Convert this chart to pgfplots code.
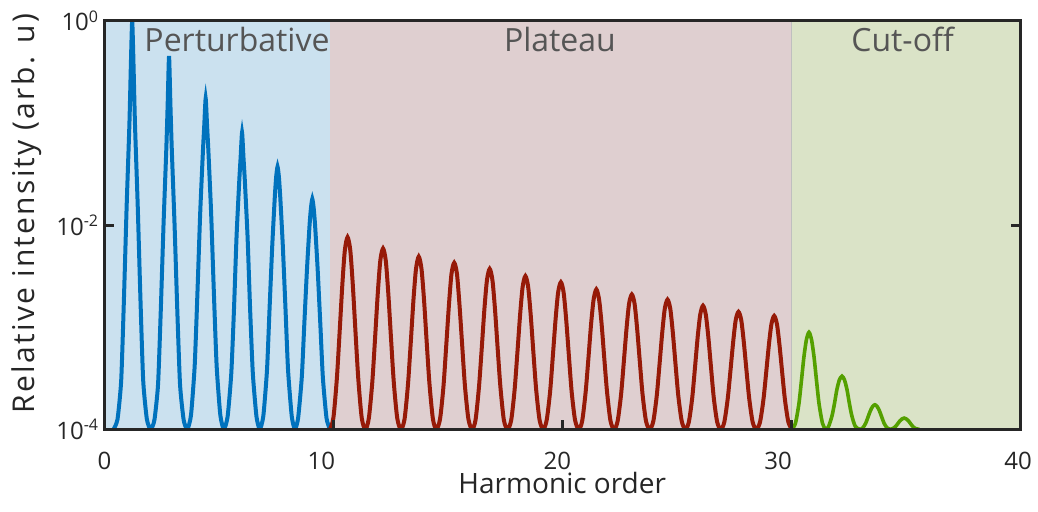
\documentclass[border=0pt]{standalone}
\usepackage{fontspec}
\setmainfont{Open Sans}
\usepackage{pgfplots}
\pgfplotsset{compat=1.18}
\definecolor{framec}{RGB}{38,38,38}
\definecolor{blueline}{RGB}{0,114,189}
\definecolor{redline}{RGB}{150,26,8}
\definecolor{greenline}{RGB}{84,160,0}
\definecolor{bluebg}{RGB}{203,225,239}
\definecolor{redbg}{RGB}{223,207,208}
\definecolor{greenbg}{RGB}{218,227,199}
\definecolor{labgray}{RGB}{85,85,85}
\begin{document}
\begin{tikzpicture}
\useasboundingbox (-52.25pt,-40.85pt) rectangle (466.75pt,214.65pt);
\begin{axis}[
  at={(0,0)}, anchor=south west,
  scale only axis, width=457.75pt, height=204.3pt,
  xmin=0, xmax=40, ymin=-4, ymax=0,
  axis on top, clip=true,
  axis line style={draw=framec, line width=1.5pt},
  xtick={0,10,20,30,40},
  xticklabels={0,\hspace*{-12pt}10,\hspace*{-5pt}20,\hspace*{-13pt}30,\hspace*{-2pt}40},
  ytick={-4,-2,0},
  yticklabels={10\textsuperscript{-4},10\textsuperscript{-2},10\textsuperscript{0}},
  tick align=inside, major tick length=4.5pt,
  tick style={draw=framec, line width=1.5pt},
  xtick pos=lower, ytick pos=both,
  tick label style={font=\fontsize{12}{14}\selectfont, text=framec},
  xticklabel style={anchor=north, inner sep=0pt, yshift=-11.2pt},
  yticklabel style={anchor=east, inner sep=0pt, xshift=-2.5pt},
  xlabel={Harmonic order},
  ylabel={\addfontfeatures{LetterSpace=7.5}Relative intensity (arb. u)},
  xlabel style={at={(axis description cs:0.5,-0.157)}, anchor=base, font=\fontsize{14}{16}\selectfont, text=framec},
  ylabel style={at={(axis description cs:-0.077,0.528)}, anchor=base, rotate=0, font=\fontsize{15}{17}\selectfont, text=framec},
]
\addplot[fill=bluebg, draw=none] coordinates {(0,-4) (9.85,-4) (9.85,0) (0,0)} -- cycle;
\addplot[fill=redbg, draw=none] coordinates {(9.85,-4) (30.0,-4) (30.0,0) (9.85,0)} -- cycle;
\addplot[fill=greenbg, draw=none] coordinates {(30.0,-4) (40,-4) (40,0) (30.0,0)} -- cycle;
\draw[color=black!25, line width=0.5pt] (axis cs:30.0,-4) -- (axis cs:30.0,0);

\node[anchor=base, font=\fontsize{16}{18}\selectfont, text=labgray] at (axis cs:5.79,-0.306) {Perturbative};
\node[anchor=base, font=\fontsize{16}{18}\selectfont, text=labgray] at (axis cs:19.9,-0.306) {Plateau};
\node[anchor=base, font=\fontsize{16}{18}\selectfont, text=labgray] at (axis cs:34.87,-0.306) {Cut-off};

\addplot[blueline, line width=2pt, smooth, tension=0.35] coordinates {
(0.40,-4) (0.57,-3.90) (0.73,-3.52) (0.85,-2.72) (0.97,-1.80) (1.09,-1.00) (1.15,-0.45) (1.21,0) (1.27,-0.45) (1.33,-1.00) (1.45,-1.80) (1.57,-2.72) (1.69,-3.52) (1.85,-3.90) (2.015,-4)
(2.18,-3.91) (2.34,-3.56) (2.46,-2.83) (2.58,-1.99) (2.70,-1.26) (2.76,-0.82) (2.82,-0.346) (2.88,-0.82) (2.94,-1.26) (3.06,-1.99) (3.18,-2.83) (3.30,-3.56) (3.46,-3.91) (3.62,-4)
(3.78,-3.86) (3.94,-3.38) (4.06,-2.67) (4.18,-1.89) (4.30,-1.28) (4.36,-1.02) (4.42,-0.76) (4.48,-1.02) (4.54,-1.28) (4.66,-1.89) (4.78,-2.67) (4.90,-3.38) (5.06,-3.86) (5.215,-4)
(5.38,-3.875) (5.54,-3.45) (5.66,-2.81) (5.77,-2.11) (5.89,-1.56) (5.95,-1.33) (6.01,-1.096) (6.07,-1.33) (6.13,-1.56) (6.25,-2.11) (6.36,-2.81) (6.48,-3.45) (6.64,-3.875) (6.785,-4)
(6.94,-3.87) (7.10,-3.42) (7.21,-2.83) (7.33,-2.20) (7.44,-1.73) (7.50,-1.53) (7.56,-1.43) (7.62,-1.53) (7.68,-1.73) (7.79,-2.20) (7.91,-2.83) (8.02,-3.42) (8.18,-3.87) (8.32,-4)
(8.46,-3.89) (8.62,-3.49) (8.73,-2.97) (8.85,-2.42) (8.96,-2.00) (9.02,-1.835) (9.08,-1.745) (9.14,-1.835) (9.20,-2.00) (9.31,-2.42) (9.43,-2.97) (9.54,-3.49) (9.70,-3.89) (9.85,-4)
};

\addplot[redline, line width=2pt, smooth, tension=0.45] coordinates {
(9.85,-4) (10.00,-3.89) (10.15,-3.51) (10.27,-3.06) (10.39,-2.59) (10.50,-2.25) (10.62,-2.12) (10.74,-2.25) (10.85,-2.59) (10.97,-3.06) (11.09,-3.51) (11.24,-3.89) (11.40,-4)
(11.55,-3.89) (11.70,-3.54) (11.82,-3.115) (11.94,-2.67) (12.05,-2.35) (12.17,-2.23) (12.29,-2.35) (12.40,-2.67) (12.52,-3.115) (12.64,-3.54) (12.79,-3.89) (12.95,-4)
(13.11,-3.90) (13.26,-3.56) (13.38,-3.155) (13.50,-2.73) (13.61,-2.43) (13.73,-2.31) (13.85,-2.43) (13.96,-2.73) (14.08,-3.155) (14.20,-3.56) (14.35,-3.90) (14.50,-4)
(14.66,-3.90) (14.81,-3.58) (14.93,-3.185) (15.05,-2.78) (15.16,-2.48) (15.28,-2.37) (15.40,-2.48) (15.51,-2.78) (15.63,-3.185) (15.75,-3.58) (15.90,-3.90) (16.06,-4)
(16.21,-3.91) (16.36,-3.59) (16.48,-3.215) (16.60,-2.82) (16.71,-2.54) (16.83,-2.43) (16.95,-2.54) (17.06,-2.82) (17.18,-3.215) (17.30,-3.59) (17.45,-3.91) (17.61,-4)
(17.77,-3.91) (17.92,-3.61) (18.04,-3.25) (18.16,-2.875) (18.27,-2.605) (18.39,-2.50) (18.51,-2.605) (18.62,-2.875) (18.74,-3.25) (18.86,-3.61) (19.01,-3.91) (19.17,-4)
(19.32,-3.91) (19.47,-3.63) (19.59,-3.28) (19.71,-2.92) (19.82,-2.66) (19.94,-2.56) (20.06,-2.66) (20.17,-2.92) (20.29,-3.28) (20.41,-3.63) (20.56,-3.91) (20.72,-4)
(20.87,-3.92) (21.02,-3.64) (21.14,-3.315) (21.26,-2.97) (21.37,-2.73) (21.49,-2.63) (21.61,-2.73) (21.72,-2.97) (21.84,-3.315) (21.96,-3.64) (22.11,-3.92) (22.27,-4)
(22.42,-3.92) (22.57,-3.66) (22.69,-3.34) (22.81,-3.01) (22.92,-2.77) (23.04,-2.68) (23.16,-2.77) (23.27,-3.01) (23.39,-3.34) (23.51,-3.66) (23.66,-3.92) (23.82,-4)
(23.98,-3.92) (24.13,-3.67) (24.25,-3.365) (24.37,-3.05) (24.48,-2.82) (24.60,-2.73) (24.72,-2.82) (24.83,-3.05) (24.95,-3.365) (25.07,-3.67) (25.22,-3.92) (25.38,-4)
(25.53,-3.93) (25.68,-3.69) (25.80,-3.395) (25.92,-3.09) (26.03,-2.875) (26.15,-2.79) (26.27,-2.875) (26.38,-3.09) (26.50,-3.395) (26.62,-3.69) (26.77,-3.93) (26.93,-4)
(27.08,-3.93) (27.23,-3.70) (27.35,-3.425) (27.47,-3.14) (27.58,-2.93) (27.70,-2.85) (27.82,-2.93) (27.93,-3.14) (28.05,-3.425) (28.17,-3.70) (28.32,-3.93) (28.48,-4)
(28.64,-3.93) (28.79,-3.71) (28.91,-3.445) (29.03,-3.17) (29.14,-2.97) (29.26,-2.89) (29.38,-2.97) (29.49,-3.17) (29.61,-3.445) (29.73,-3.71) (29.88,-3.93) (30.04,-4)
};

\addplot[greenline, line width=1.8pt, smooth, tension=0.45] coordinates {
(30.04,-4) (30.19,-3.94) (30.34,-3.75) (30.45,-3.525) (30.56,-3.29) (30.67,-3.12) (30.78,-3.05) (30.89,-3.12) (31.00,-3.29) (31.11,-3.525) (31.22,-3.75) (31.37,-3.94) (31.51,-4)
(31.64,-3.97) (31.79,-3.865) (31.90,-3.74) (32.00,-3.61) (32.11,-3.516) (32.22,-3.48) (32.33,-3.516) (32.44,-3.61) (32.54,-3.74) (32.65,-3.865) (32.80,-3.97) (33.00,-4)
(33.13,-3.986) (33.26,-3.94) (33.36,-3.88) (33.46,-3.82) (33.56,-3.777) (33.66,-3.76) (33.76,-3.777) (33.86,-3.82) (33.96,-3.88) (34.06,-3.94) (34.19,-3.986) (34.32,-4)
(34.44,-3.993) (34.57,-3.971) (34.66,-3.945) (34.75,-3.918) (34.85,-3.898) (34.94,-3.89) (35.03,-3.898) (35.13,-3.918) (35.22,-3.945) (35.31,-3.971) (35.44,-3.993) (35.60,-4)
};
\end{axis}
\end{tikzpicture}
\end{document}
